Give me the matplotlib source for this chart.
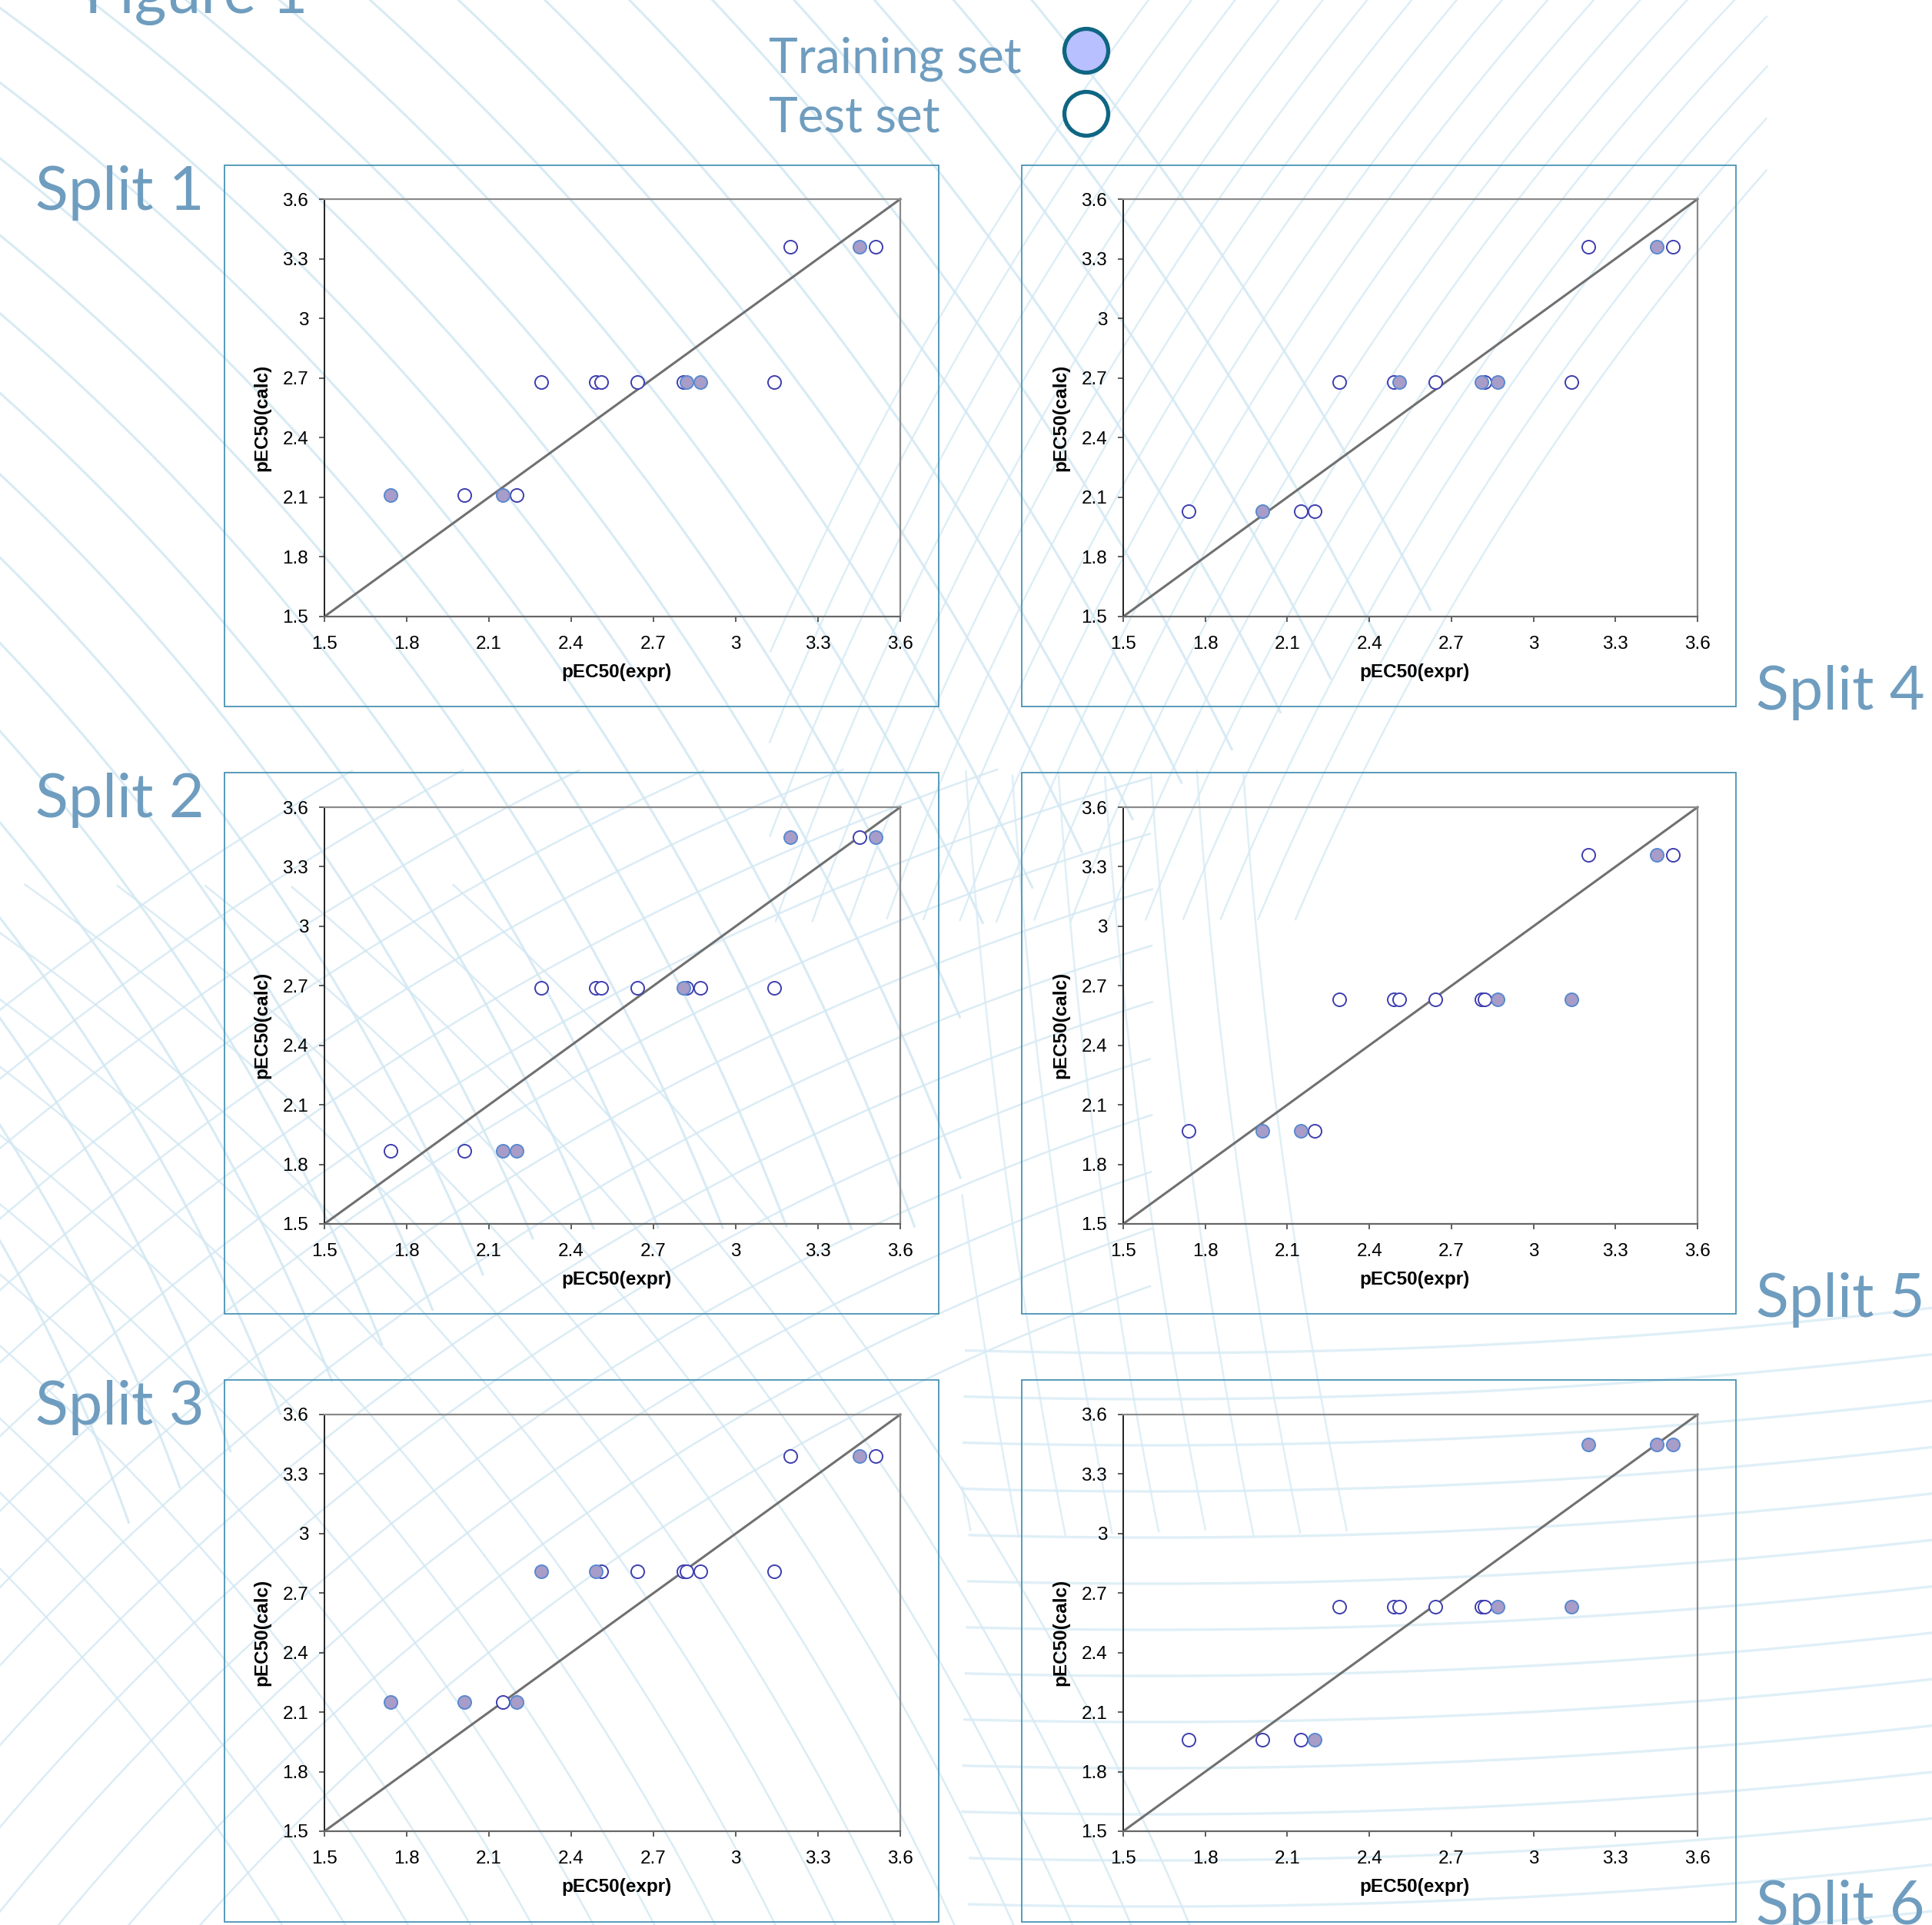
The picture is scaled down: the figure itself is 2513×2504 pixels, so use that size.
import numpy as np
import matplotlib
matplotlib.use("Agg")
import matplotlib.pyplot as plt
from matplotlib.collections import LineCollection
from matplotlib.patches import Circle, Rectangle

# ---------------- data ----------------
x_expr = [1.74, 2.01, 2.15, 2.20, 2.29, 2.49, 2.51, 2.64, 2.81, 2.82, 2.87, 3.14, 3.20, 3.45, 3.51]

calc_split1 = [2.11, 2.11, 2.11, 2.11, 2.68, 2.68, 2.68, 2.68, 2.68, 2.68, 2.68, 2.68, 3.36, 3.36, 3.36]
calc_split2 = [1.87, 1.87, 1.87, 1.87, 2.69, 2.69, 2.69, 2.69, 2.69, 2.69, 2.69, 2.69, 3.45, 3.45, 3.45]
calc_split3 = [2.15, 2.15, 2.15, 2.15, 2.81, 2.81, 2.81, 2.81, 2.81, 2.81, 2.81, 2.81, 3.39, 3.39, 3.39]
calc_split4 = [2.03, 2.03, 2.03, 2.03, 2.68, 2.68, 2.68, 2.68, 2.68, 2.68, 2.68, 2.68, 3.36, 3.36, 3.36]
calc_split5 = [1.97, 1.97, 1.97, 1.97, 2.63, 2.63, 2.63, 2.63, 2.63, 2.63, 2.63, 2.63, 3.36, 3.36, 3.36]
calc_split6 = [1.96, 1.96, 1.96, 1.96, 2.63, 2.63, 2.63, 2.63, 2.63, 2.63, 2.63, 2.63, 3.45, 3.45, 3.45]

# 1 = training set, 0 = test set
train_split1 = [1, 0, 1, 0, 0, 0, 0, 0, 0, 1, 1, 0, 0, 1, 0]
train_split2 = [0, 0, 1, 1, 0, 0, 0, 0, 1, 0, 0, 0, 1, 0, 1]
train_split3 = [1, 1, 0, 1, 1, 1, 0, 0, 0, 0, 0, 0, 0, 1, 0]
train_split4 = [0, 1, 0, 0, 0, 0, 1, 0, 1, 0, 1, 0, 0, 1, 0]
train_split5 = [0, 1, 1, 0, 0, 0, 0, 0, 0, 0, 1, 1, 0, 1, 0]
train_split6 = [0, 0, 0, 1, 0, 0, 0, 0, 0, 0, 1, 1, 1, 1, 1]

split_names = ["Split 1", "Split 2", "Split 3", "Split 4", "Split 5", "Split 6"]
tick_vals = [1.5, 1.8, 2.1, 2.4, 2.7, 3.0, 3.3, 3.6]
tick_labels = ["1.5", "1.8", "2.1", "2.4", "2.7", "3", "3.3", "3.6"]
xlabel = "pEC50(expr)"
ylabel = "pEC50(calc)"
legend_labels = ["Training set", "Test set"]

calcs = [calc_split1, calc_split2, calc_split3, calc_split4, calc_split5, calc_split6]
trains = [train_split1, train_split2, train_split3, train_split4, train_split5, train_split6]

# ---------------- figure ----------------
W, H = 2513, 2504
fig = plt.figure(figsize=(W / 100, H / 100), dpi=100)
fig.patch.set_facecolor("white")

TXT = "#6f9dbf"
HEAD_FONT = ["Lato", "DejaVu Sans"]
NUM_FONT = ["Liberation Sans", "DejaVu Sans"]

# background decoration (pixel coordinate axes)
bg = fig.add_axes([0, 0, 1, 1], zorder=-10)
bg.set_xlim(0, W)
bg.set_ylim(H, 0)
bg.axis("off")


def arc_family(cx, cy, radii, mask_fn, color="#cfe6f2", lw=2.2, alpha=0.8):
    segs = []
    th = np.linspace(0, 2 * np.pi, 5000)
    for r in radii:
        xs = cx + r * np.cos(th)
        ys = cy + r * np.sin(th)
        ok = mask_fn(xs, ys) & (xs > -50) & (xs < W + 50) & (ys > -50) & (ys < H + 50)
        idx = np.where(ok)[0]
        if len(idx) == 0:
            continue
        breaks = np.where(np.diff(idx) > 1)[0]
        starts = np.concatenate([[0], breaks + 1])
        ends = np.concatenate([breaks, [len(idx) - 1]])
        for s, e in zip(starts, ends):
            seg = idx[s:e + 1]
            if len(seg) > 2:
                segs.append(np.column_stack([xs[seg], ys[seg]]))
    lc = LineCollection(segs, colors=color, linewidths=lw, alpha=alpha)
    bg.add_collection(lc)


# top-left diagonal strokes
arc_family(-2000, 2750, np.arange(2300, 4400, 78),
           lambda x, y: (y < 2100 - 0.7 * x) | ((x < 1250) & (y < 1600)))
# top-right fan
arc_family(5000, 2600, np.arange(3600, 4400, 45),
           lambda x, y: (y < 1200) & (x > 1000) & (x < 2300), color="#d4e9f4", lw=1.7)
# bottom-left mesh
arc_family(2500, 4500, np.arange(3000, 4100, 70),
           lambda x, y: (x < 1500) & (y > 1000), color="#d2e8f3", lw=1.8)
arc_family(-2000, 4000, np.arange(2800, 3900, 70),
           lambda x, y: (x < 1600) & (y > 1150), color="#d2e8f3", lw=1.8)
# bottom-right sweeping lines
arc_family(1500, -7000, np.arange(8700, 9600, 60),
           lambda x, y: (x > 1250) & (y > 1700), color="#d8ebf5", lw=2.4)
arc_family(9000, 500, np.arange(7400, 8000, 60),
           lambda x, y: (x > 1250) & (y > 1000) & (y < 2000), color="#d8ebf5", lw=1.8)

# header texts
fig.text(110 / W, 1 - 17 / H, "Figure 1", fontsize=58, family=HEAD_FONT, color=TXT,
         ha="left", va="baseline")
fig.text(1000 / W, 1 - 95 / H, legend_labels[0], fontsize=46, family=HEAD_FONT, color=TXT,
         ha="left", va="baseline")
fig.text(1000 / W, 1 - 172 / H, legend_labels[1], fontsize=46, family=HEAD_FONT, color=TXT,
         ha="left", va="baseline")
bg.add_patch(Circle((1413, 66), 28.5, facecolor="#b8c0ff", edgecolor="#0f6683", lw=3.8, zorder=5))
bg.add_patch(Circle((1413, 148), 28.5, facecolor="white", edgecolor="#0f6683", lw=3.8, zorder=5))

# panel geometry (pixels)
cols_axes = [(422, 1171), (1461, 2208)]
rows_axes = [(259, 802), (1050, 1592), (1840, 2382)]
cols_frame = [(292, 1221), (1329, 2258)]
rows_frame = [(215, 919), (1005, 1709), (1795, 2500)]

label_pos = {
    0: (46, 273), 1: (46, 1063), 2: (46, 1853),
    3: (2284, 923), 4: (2284, 1713), 5: (2284, 2503),
}

for i in range(6):
    c = 0 if i < 3 else 1
    r = i % 3
    l, rr = cols_axes[c]
    t, b = rows_axes[r]
    fl, fr = cols_frame[c]
    ft, fb = rows_frame[r]

    fig.patches.append(Rectangle((fl / W, 1 - fb / H), (fr - fl) / W, (fb - ft) / H,
                                 transform=fig.transFigure, fill=False,
                                 edgecolor="#4a93b3", lw=1.3, zorder=1))

    ax = fig.add_axes([l / W, 1 - b / H, (rr - l) / W, (b - t) / H])
    ax.patch.set_alpha(0)
    ax.set_xlim(1.5, 3.6)
    ax.set_ylim(1.5, 3.6)
    ax.set_xticks(tick_vals)
    ax.set_xticklabels(tick_labels, family=NUM_FONT)
    ax.set_yticks(tick_vals)
    ax.set_yticklabels(tick_labels, family=NUM_FONT)
    ax.tick_params(direction="out", length=5, width=1.1, labelsize=17.5, pad=10,
                   color="#333333", labelcolor="black")
    ax.tick_params(axis="x", pad=13)
    for side in ["top", "right"]:
        ax.spines[side].set_color("#8a8a8a")
        ax.spines[side].set_linewidth(1.6)
    ax.spines["left"].set_color("#222222")
    ax.spines["left"].set_linewidth(1.4)
    ax.spines["bottom"].set_color("#666666")
    ax.spines["bottom"].set_linewidth(1.6)

    ax.plot([1.5, 3.6], [1.5, 3.6], color="#707070", lw=2.2, zorder=2, clip_on=False)

    xs = np.array(x_expr)
    ys = np.array(calcs[i])
    tr = np.array(trains[i]) == 1
    ax.plot(xs[~tr], ys[~tr], "o", ms=12.3, mfc="white", mec="#3f3fb0", mew=1.4,
            ls="none", zorder=3)
    ax.plot(xs[tr], ys[tr], "o", ms=12.3, mfc="#a89cc8", mec="#5a8ad0", mew=1.4,
            ls="none", zorder=4)

    ax.set_xlabel(xlabel, fontsize=17.5, fontweight="bold", family=NUM_FONT)
    ax.set_ylabel(ylabel, fontsize=17.5, fontweight="bold", family=NUM_FONT)
    ax.xaxis.set_label_coords(0.507, -0.133)
    ax.yaxis.set_label_coords(-0.108, 0.477)
    ax.xaxis.label.set_va("center")
    ax.yaxis.label.set_va("center")

    lx, ly = label_pos[i]
    fig.text(lx / W, 1 - ly / H, split_names[i], fontsize=57, family=HEAD_FONT, color=TXT,
             ha="left", va="baseline")

fig.savefig("out.png", dpi=100, facecolor="white")
